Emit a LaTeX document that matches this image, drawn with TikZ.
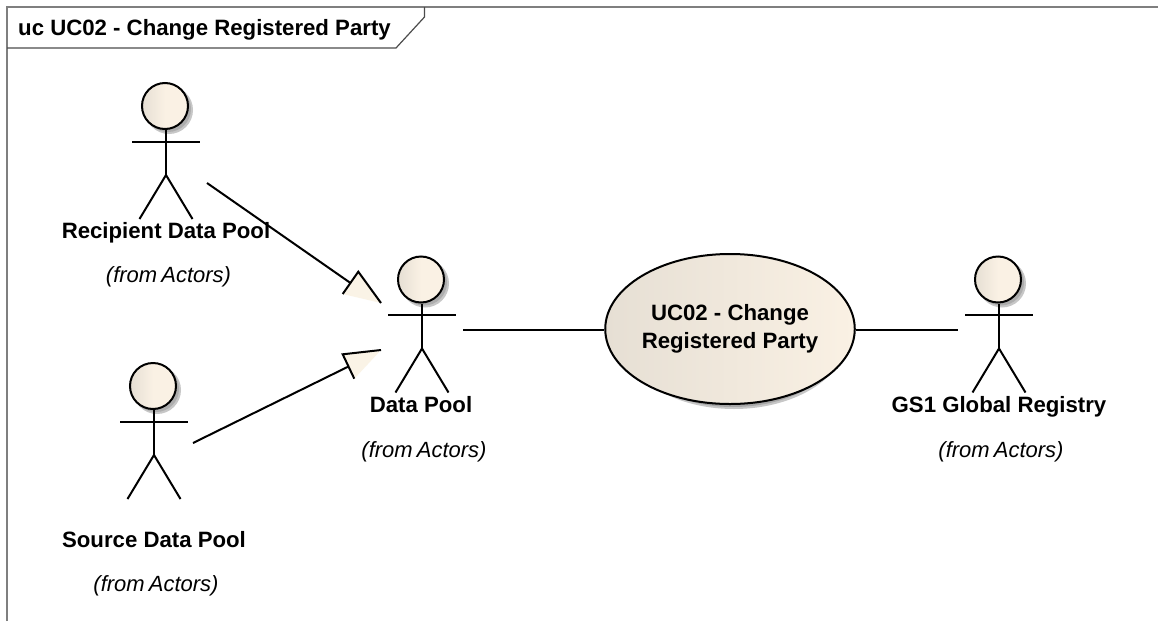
\documentclass[tikz,border=0pt]{standalone}
\usepackage{fontspec}
\usetikzlibrary{shapes.geometric}
\setmainfont{Liberation Sans}
\definecolor{shadeL}{HTML}{E6DFD4}
\definecolor{shadeR}{HTML}{FAF1E4}
\definecolor{trifill}{HTML}{FAF3E6}
\definecolor{framec}{HTML}{7F7F7F}
\tikzset{
  lbl/.style={font=\fontsize{22.2}{28.4}\selectfont\bfseries,inner sep=0pt,align=center},
  bl/.style={lbl,anchor=base},
  from/.style={font=\fontsize{22}{26}\selectfont\itshape,inner sep=0pt,anchor=base},
  ln/.style={line width=2pt,black},
  tri/.style={fill=trifill,draw=none},
  headsty/.style={circle,minimum size=46pt,inner sep=0pt,draw=black,line width=2pt,left color=shadeL,right color=shadeR,middle color=shadeR},
}
\newcommand{\actor}[3]{% name, cx, head cy
  \fill[black!22] (#2+4,#3+4) circle[radius=24];
  \fill[black!32] (#2+3,#3+3) circle[radius=23];
  \node[headsty] (#1) at (#2,#3) {};
  \draw[ln] (#1.south) ++(1,0) -- ++(0,45) coordinate (#1w);
  \draw[ln] (#2-33,#3+35.5) -- (#2+35,#3+35.5);
  \draw[ln] (#1w) -- ++(-26.5,44);
  \draw[ln] (#1w) -- ++(26.5,44);
}
\newcommand{\fromtxt}{(from\hspace{-2pt} Actors)}
\begin{document}
\begin{tikzpicture}[x=1pt,y=-1pt]
\useasboundingbox (0,0) rectangle (1158,621);
\fill[white] (0,0) rectangle (1158,621);
% frame
\draw[framec,line width=2pt] (7,621) -- (7,7) -- (1158,7);
\draw[black!70,line width=1.2pt] (7,48) -- (396,48) -- (424.5,17) -- (424.5,7);
\node[bl,anchor=base west] (title) at (18,35) {uc UC02 - Change Registered Party};
% actors
\actor{rdp}{165}{106}
\actor{dp}{421}{279.5}
\actor{sdp}{153}{386}
\actor{gr}{998}{279.5}
% labels
\node[bl] (rdpl) at (166,238.3) {Recipient Data Pool};
\node[from] (rdpf) at (168.5,282.7) {\fromtxt};
\node[bl] (dpl) at (421,412.7) {Data Pool};
\node[from] (dpf) at (424,457.5) {\fromtxt};
\node[bl] (sdpl) at (154,547.3) {Source Data Pool};
\node[from] (sdpf) at (156,591) {\fromtxt};
\node[bl] (grl) at (999,412.7) {GS1 Global Registry};
\node[from] (grf) at (1001,457.5) {\fromtxt};
% use case
\fill[black!22] (734,333) ellipse[x radius=115,y radius=76];
\fill[black!35] (733,332) ellipse[x radius=114,y radius=75];
\node[ellipse,minimum width=228pt,minimum height=150pt,inner sep=0pt,draw=black,line width=2pt,left color=shadeL,middle color=shadeR,right color=shadeR,lbl] (uc) at (730,329) {UC02 - Change\\Registered Party};
% connector ends
\coordinate (c1s) at (207,183);
\coordinate (c1e) at (350.5,283);
\coordinate (t1a) at (381,303);
\coordinate (t1b) at (342.7,294);
\coordinate (t1c) at (358.3,271.7);
\coordinate (c2s) at (193,443);
\coordinate (c2e) at (348.5,366.5);
\coordinate (t2a) at (381,350);
\coordinate (t2b) at (342.7,354.3);
\coordinate (t2c) at (354.3,378.7);
\coordinate (c3s) at (463,330);
\coordinate (c4e) at (958,330);
% generalizations
\draw[ln] (c1s) -- (c1e);
\fill[tri] (t1a) -- (t1b) -- (t1c) -- cycle;
\draw[ln] (t1b) -- (t1c) -- (t1a);
\draw[ln] (c2s) -- (c2e);
\fill[tri] (t2a) -- (t2b) -- (t2c) -- cycle;
\draw[ln] (t2c) -- (t2b) -- (t2a);
% associations
\draw[ln] (c3s) -- (uc.west |- c3s);
\draw[ln] (uc.east |- c4e) -- (c4e);
\end{tikzpicture}
\end{document}
